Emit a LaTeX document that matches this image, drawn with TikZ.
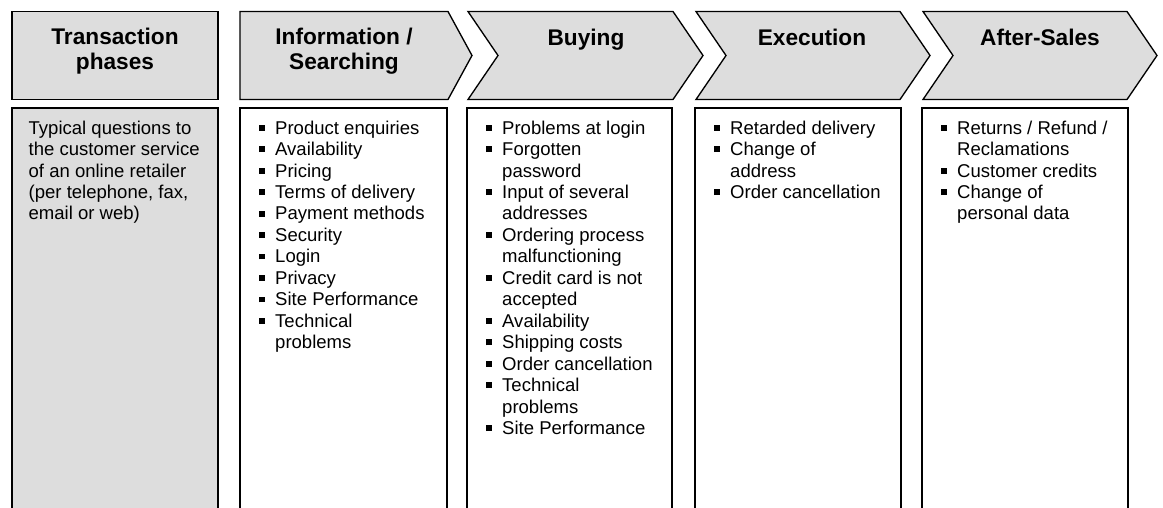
\documentclass[tikz,border=0pt]{standalone}
\usepackage{fontspec}
\setmainfont{Liberation Sans}
\usetikzlibrary{positioning}
\definecolor{phasegray}{RGB}{221,221,221}
\newcommand{\bul}{\makebox[12.4pt][l]{\rule[2.6pt]{4.4pt}{4.4pt}}}
\newcommand{\ind}{\hspace*{12.4pt}}

\begin{document}
\begin{tikzpicture}[x=0.75pt,y=-0.75pt,line width=1pt,
                    head/.style={font=\fontsize{17}{18.75}\selectfont\bfseries,
                                 align=center,anchor=north,inner sep=0pt,
                                 execute at begin node=\strut},
                    list/.style={font=\fontsize{13.9}{16.1}\selectfont,
                                 align=left,anchor=north west,inner sep=0pt,
                                 execute at begin node=\strut}]
  \useasboundingbox (0,0) rectangle (1163,507);

  % header row
  \draw[fill=phasegray] (12,11.5) rectangle (218,99.5);
  \draw[fill=phasegray] (240,11.5) -- (448,11.5) -- (472,55.5) -- (448,99.5) -- (240,99.5) -- cycle;
  \draw[fill=phasegray] (468,11.5) -- (673,11.5) -- (703,55.5) -- (673,99.5) -- (468,99.5) -- (498,55.5) -- cycle;
  \draw[fill=phasegray] (696,11.5) -- (900,11.5) -- (930,55.5) -- (900,99.5) -- (696,99.5) -- (726,55.5) -- cycle;
  \draw[fill=phasegray] (923,11.5) -- (1127,11.5) -- (1157,55.5) -- (1127,99.5) -- (923,99.5) -- (953,55.5) -- cycle;

  \node[head] (trans) at (115,27)  {Transaction\\phases};
  \node[head] (info)  at (344,27)  {Information /\\Searching};
  \node[head] (buy)   at (586,27)  {Buying};
  \node[head] (exec)  at (812,27)  {Execution};
  \node[head] (after) at (1040,27) {After-Sales};

  % question columns (open at the bottom)
  \draw[fill=phasegray] (12,512) -- (12,108) -- (218,108) -- (218,512);
  \draw (240,512) -- (240,108) -- (447,108) -- (447,512);
  \draw (467,512) -- (467,108) -- (672,108) -- (672,512);
  \draw (695,512) -- (695,108) -- (901,108) -- (901,512);
  \draw (922,512) -- (922,108) -- (1128,108) -- (1128,512);

  \node[list] (transq) at (28,120) {Typical questions to\\the customer service\\of an online retailer\\
    (per telephone, fax,\\email or web)};
  \node[list] (infoq) at (258,120) {\bul Product enquiries\\\bul Availability\\\bul Pricing\\
    \bul Terms of delivery\\\bul Payment methods\\\bul Security\\\bul Login\\\bul Privacy\\
    \bul Site Performance\\\bul Technical\\\ind problems};
  \node[list] (buyq) at (485,120) {\bul Problems at login\\\bul Forgotten\\\ind password\\
    \bul Input of several\\\ind addresses\\\bul Ordering process\\\ind malfunctioning\\
    \bul Credit card is not\\\ind accepted\\\bul Availability\\\bul Shipping costs\\
    \bul Order cancellation\\\bul Technical\\\ind problems\\\bul Site Performance};
  \node[list] (execq) at (713,120) {\bul Retarded delivery\\\bul Change of\\\ind address\\
    \bul Order cancellation};
  \node[list] (afterq) at (940,120) {\bul Returns / Refund /\\\ind Reclamations\\
    \bul Customer credits\\\bul Change of\\\ind personal data};
\end{tikzpicture}
\end{document}
